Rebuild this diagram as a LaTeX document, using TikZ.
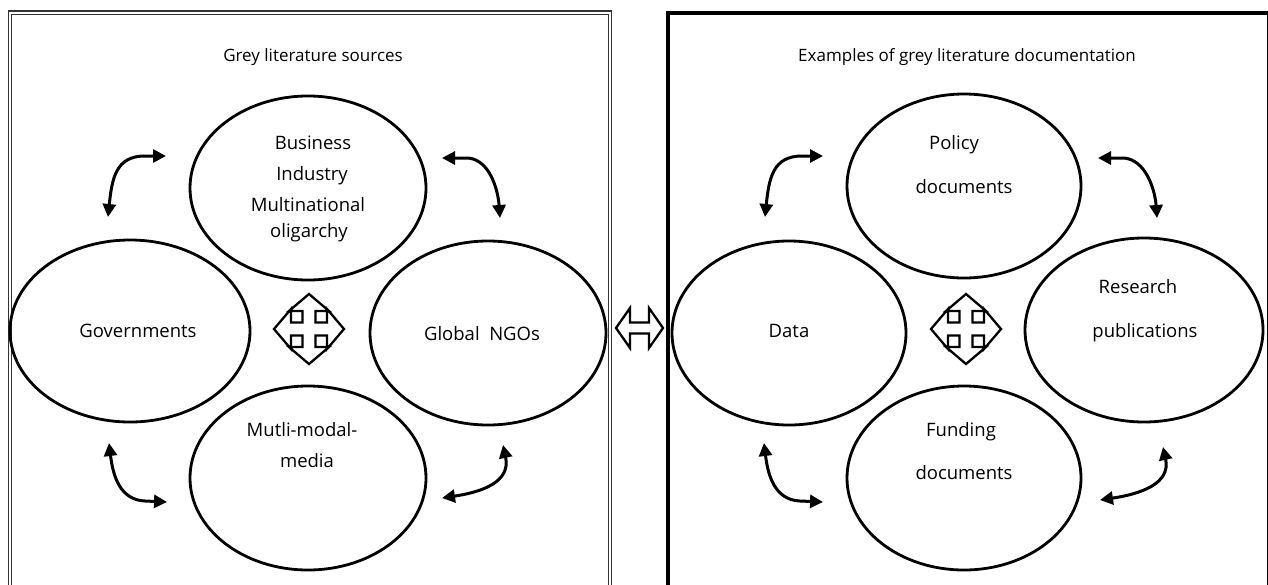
\documentclass[tikz,border=0pt]{standalone}
\usepackage{fontspec}
\setmainfont{Open Sans}
\usetikzlibrary{arrows.meta,shapes.geometric}
\begin{document}
\begin{tikzpicture}[x=1pt,y=-1pt,
  bubble/.style={ellipse,draw=black,line width=2.8pt,inner sep=0pt},
  txt/.style={anchor=base,inner sep=0pt,font=\fontsize{18.5}{22}\selectfont},
  title/.style={anchor=base,inner sep=0pt,font=\fontsize{17}{20}\selectfont},
  panelA/.style={draw=black!80,line width=1.4pt,double,double distance=2pt},
  panelB/.style={draw=black,line width=4pt},
  link/.style={line width=3pt,line cap=butt,
    {Triangle[length=13pt,width=13pt]}-{Triangle[length=13pt,width=13pt]}},
  outline/.style={draw=black,line width=2.3pt,line join=miter,fill=white},
  quadarrow/.pic={
    \path[outline] (0,-35) -- (20,-18) -- (6.5,-18) -- (6.5,-6.5) -- (18,-6.5) -- (18,-20)
      -- (35,0) -- (18,20) -- (18,6.5) -- (6.5,6.5) -- (6.5,18) -- (20,18)
      -- (0,35) -- (-20,18) -- (-6.5,18) -- (-6.5,6.5) -- (-18,6.5) -- (-18,20)
      -- (-35,0) -- (-18,-20) -- (-18,-6.5) -- (-6.5,-6.5) -- (-6.5,-18) -- (-20,-18) -- cycle;
  }]
\useasboundingbox (0,0) rectangle (1268,584);
\clip (0,0) rectangle (1268,584);

% panel frames
\draw[panelA] (10,12.5) rectangle (610,640);
\draw[panelB] (667.5,13) rectangle (1268.7,640);

% panel titles
\node[title] (titleA) at (313,61) {Grey literature sources};
\node[title] (titleB) at (967,61) {Examples of grey literature documentation};

% left panel: sources
\node[bubble,minimum width=236pt,minimum height=184pt] (biz) at (308,188) {};
\node[bubble,minimum width=240pt,minimum height=182pt] (gov) at (130,331) {};
\node[bubble,minimum width=236pt,minimum height=184pt] (ngo) at (488,333) {};
\node[bubble,minimum width=236pt,minimum height=184pt] (media) at (308,478) {};

\node[txt] (t-biz1) at (313,149) {Business};
\node[txt] (t-biz2) at (312,180) {Industry};
\node[txt] (t-biz3) at (308,211) {Multinational};
\node[txt] (t-biz4) at (309,237) {oligarchy};
\node[txt] (t-gov) at (138,337) {Governments};
\node[txt] (t-ngo) at (482,340) {Global\ \ NGOs};
\node[txt] (t-med1) at (302,436) {Mutli-modal-};
\node[txt] (t-med2) at (307,467) {media};

% right panel: documentation
\node[bubble,minimum width=234pt,minimum height=184pt] (pol) at (964,186) {};
\node[bubble,minimum width=234pt,minimum height=184pt] (data) at (789,333) {};
\node[bubble,minimum width=238pt,minimum height=184pt] (res) at (1144,330) {};
\node[bubble,minimum width=234pt,minimum height=184pt] (fund) at (964,478) {};

\node[txt] (t-pol1) at (954,149) {Policy};
\node[txt] (t-pol2) at (964,193) {documents};
\node[txt] (t-data) at (789,337) {Data};
\node[txt] (t-res1) at (1138,293) {Research};
\node[txt] (t-res2) at (1145,337) {publications};
\node[txt] (t-fun1) at (961,436) {Funding};
\node[txt] (t-fun2) at (964,479) {documents};

% central quad arrows
\pic (quadA) at (309,329) {quadarrow};
\pic (quadB) at (966,329) {quadarrow};

% link between the two panels
\node[inner sep=0pt] (dbl) at (639.5,328) {};
\path[outline] (616,328) -- (630,308) -- (630,322.5) -- (649,322.5) -- (649,308)
  -- (663,328) -- (649,348) -- (649,333.5) -- (630,333.5) -- (630,348) -- cycle;

% curved two-headed arrows, left panel
\coordinate (l1a) at (108,217); \coordinate (l1b) at (166,156);
\coordinate (l2a) at (442,158); \coordinate (l2b) at (500,218);
\coordinate (l3a) at (109,443); \coordinate (l3b) at (167,502);
\coordinate (l4a) at (503,445); \coordinate (l4b) at (442,498);
\draw[link] (l1a) .. controls (112,178) and (116,156) .. (145,156) -- (l1b);
\draw[link] (l2a) -- (468,158) .. controls (490,160) and (498,190) .. (l2b);
\draw[link] (l3a) .. controls (113,476) and (120,500) .. (145,501) -- (l3b);
\draw[link] (l4a) .. controls (511,482) and (482,492) .. (l4b);

% curved two-headed arrows, right panel
\coordinate (r1a) at (765,217); \coordinate (r1b) at (823,156);
\coordinate (r2a) at (1098,158); \coordinate (r2b) at (1157,218);
\coordinate (r3a) at (764,443); \coordinate (r3b) at (823,502);
\coordinate (r4a) at (1163,447); \coordinate (r4b) at (1100,500);
\draw[link] (r1a) .. controls (769,178) and (773,156) .. (802,156) -- (r1b);
\draw[link] (r2a) -- (1124,158) .. controls (1146,160) and (1155,190) .. (r2b);
\draw[link] (r3a) .. controls (768,476) and (775,500) .. (800,501) -- (r3b);
\draw[link] (r4a) .. controls (1171,484) and (1140,494) .. (r4b);
\end{tikzpicture}
\end{document}
